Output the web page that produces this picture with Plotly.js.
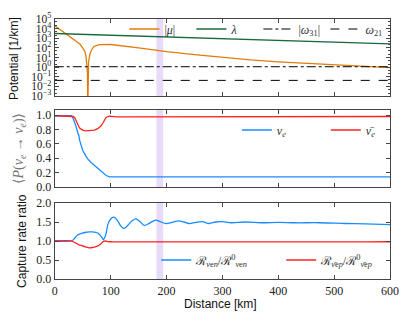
<!DOCTYPE html>
<html><head><meta charset="utf-8">
<script src="https://cdn.plot.ly/plotly-3.0.1.min.js"></script>
<style>html,body{margin:0;padding:0;background:#fff}#c{width:415px;height:324px}</style>
</head><body><div id="c"></div>
<script>
// ---- data ----
const muDist = [0,10,20,30,40,45,50,54,56,57.5,58.5,59,59.5,60.5,62,64,67,70,80,90,100,150,200,250,300,350,400,450,500,550,600];
const muVal  = [2.0e4,7.6e3,2.95e3,1.12e3,400,250,100,40,12,2.5,0.3,1e-5,0.3,3,12,35,80,140,215,240,225,100,40,20,10,5.6,3.5,2.5,1.7,1.2,0.9];
const lamDist = [0,600];
const lamVal  = [3100,263];
const w31 = 1.1;
const w21 = 0.042;
const probDist = [0,30,33,36,38.5,41.5,43,44.5,47,50,55,59,65,71,77,83,87,92,98,110,130,150,200,300,400,500,600];
const probNue  = [0.99,0.99,0.95,0.89,0.83,0.75,0.72,0.65,0.58,0.51,0.44,0.39,0.34,0.30,0.26,0.22,0.19,0.16,0.14,0.14,0.145,0.14,0.14,0.14,0.14,0.14,0.14];
const probNueb = [0.99,0.99,0.98,0.96,0.91,0.86,0.84,0.82,0.80,0.79,0.78,0.78,0.78,0.79,0.81,0.85,0.90,0.97,0.985,0.975,0.975,0.975,0.975,0.975,0.975,0.975,0.98];
const rateDist = [0,30,33,37,41,48,56,62,68,73,77,80,83,85,87,91,95,100,105,109,113,118,123,128,133,139,145,152,160,166,172,177,181,190,199,210,222,231,240,252,264,276,288,300,316,340,370,400,430,475,520,555,600];
const rateN  = [1.0,1.0,1.03,1.10,1.16,1.20,1.23,1.24,1.24,1.23,1.21,1.17,1.12,1.08,1.04,1.15,1.43,1.58,1.63,1.60,1.52,1.40,1.33,1.37,1.45,1.54,1.58,1.52,1.41,1.44,1.49,1.53,1.55,1.50,1.46,1.49,1.53,1.50,1.46,1.49,1.51,1.46,1.50,1.51,1.48,1.50,1.48,1.49,1.48,1.48,1.46,1.45,1.43];
const rateP  = [1.0,1.0,0.98,0.95,0.92,0.88,0.84,0.82,0.83,0.85,0.87,0.90,0.93,0.96,0.99,1.0,0.985,0.98,0.978,0.977,0.977,0.976,0.976,0.976,0.976,0.976,0.976,0.976,0.976,0.976,0.976,0.976,0.976,0.976,0.976,0.976,0.976,0.976,0.976,0.976,0.976,0.976,0.976,0.976,0.976,0.976,0.976,0.976,0.976,0.977,0.978,0.978,0.98];
const bandRange = [182,194];
const logTickVals = [1e-3,1e-2,1e-1,1,1e1,1e2,1e3,1e4,1e5];
const logTickText = ['10<sup>−3</sup>','10<sup>−2</sup>','10<sup>−1</sup>','10<sup>0</sup>','10<sup>1</sup>','10<sup>2</sup>','10<sup>3</sup>','10<sup>4</sup>','10<sup>5</sup>'];
const xTicks = [0,100,200,300,400,500,600];

const ORANGE='#e07c0e', GREEN='#1b6a3c', BLUE='#1a8cff', RED='#ff2222';
const serif='Liberation Serif, DejaVu Serif, serif';
const sans='Liberation Sans, Arial, sans-serif';

const traces = [
 {x:muDist,y:muVal,mode:'lines',line:{color:ORANGE,width:1.3},name:'|<i>μ</i>|',xaxis:'x',yaxis:'y',legend:'legend'},
 {x:lamDist,y:lamVal,mode:'lines',line:{color:GREEN,width:1.3},name:'<i>λ</i>',xaxis:'x',yaxis:'y',legend:'legend'},
 {x:[0,600],y:[w31,w31],mode:'lines',line:{color:'#000',width:1,dash:'dashdot'},name:'|<i>ω</i><sub>31</sub>|',xaxis:'x',yaxis:'y',legend:'legend'},
 {x:[0,600],y:[w21,w21],mode:'lines',line:{color:'#000',width:1,dash:'dash'},name:'<i>ω</i><sub>21</sub>',xaxis:'x',yaxis:'y',legend:'legend'},
 {x:probDist,y:probNue,mode:'lines',line:{color:BLUE,width:1.3},name:'<i>ν<sub>e</sub></i>',xaxis:'x2',yaxis:'y2',legend:'legend2'},
 {x:probDist,y:probNueb,mode:'lines',line:{color:RED,width:1.3},name:'<i>ν̄<sub>e</sub></i>',xaxis:'x2',yaxis:'y2',legend:'legend2'},
 {x:rateDist,y:rateN,mode:'lines',line:{color:BLUE,width:1.3,shape:'spline'},name:'ℛ<sub><i>ν</i>e<i>n</i></sub>/ℛ<sup>0</sup><sub><i>ν</i>e<i>n</i></sub>',xaxis:'x3',yaxis:'y3',legend:'legend3'},
 {x:rateDist,y:rateP,mode:'lines',line:{color:RED,width:1.3,shape:'spline'},name:'ℛ<sub><i>ν̄</i>e<i>p</i></sub>/ℛ<sup>0</sup><sub><i>ν̄</i>e<i>p</i></sub>',xaxis:'x3',yaxis:'y3',legend:'legend3'}
];

const X0=55/415, X1=392/415;
function dom(t,b){return [1-b/324,1-t/324];}
const axBase = {showline:true,linecolor:'#444',linewidth:1.2,mirror:'ticks',ticks:'inside',ticklen:4,tickcolor:'#444',showgrid:false,zeroline:false,tickfont:{family:serif,size:12,color:'#222'}};
function xa(anchor,labels){return Object.assign({},axBase,{domain:[X0,X1],anchor:anchor,range:[0,600],tickvals:xTicks,showticklabels:labels,matches:anchor==='y'?undefined:'x'});}
const legBase={orientation:'h',bgcolor:'rgba(0,0,0,0)',font:{family:serif,size:12,color:'#333'},xanchor:'left',yanchor:'middle',entrywidthmode:'pixels',tracegroupgap:0,itemwidth:30};

const layout = {
 width:415,height:324,margin:{l:0,r:0,t:0,b:0},paper_bgcolor:'#fff',plot_bgcolor:'#fff',
 xaxis:xa('y',false), xaxis2:xa('y2',false), xaxis3:xa('y3',true),
 yaxis:Object.assign({},axBase,{domain:dom(19,96),anchor:'x',type:'log',range:[-3,5],tickvals:logTickVals,ticktext:logTickText,tickfont:{family:serif,size:11.5,color:'#222'},minor:{ticks:'inside',ticklen:2,tickcolor:'#444',showgrid:false}}),
 yaxis2:Object.assign({},axBase,{domain:dom(110,187),anchor:'x2',range:[0,1.07],tickvals:[0,0.2,0.4,0.6,0.8,1.0],tickformat:'.1f'}),
 yaxis3:Object.assign({},axBase,{domain:dom(203,279),anchor:'x3',range:[0,2],tickvals:[0,0.5,1,1.5,2],tickformat:'.1f'}),
 showlegend:true,
 legend:Object.assign({},legBase,{x:125/415,y:1-29/324,entrywidth:22}),
 legend2:Object.assign({},legBase,{x:238/415,y:1-130/324,entrywidth:44}),
 legend3:Object.assign({},legBase,{x:157/415,y:1-260/324,entrywidth:80}),
 shapes:[
  {type:'rect',xref:'x',yref:'y domain',x0:bandRange[0],x1:bandRange[1],y0:0,y1:1,fillcolor:'rgba(190,150,240,0.35)',line:{width:0},layer:'below'},
  {type:'rect',xref:'x2',yref:'y2 domain',x0:bandRange[0],x1:bandRange[1],y0:0,y1:1,fillcolor:'rgba(190,150,240,0.35)',line:{width:0},layer:'below'},
  {type:'rect',xref:'x3',yref:'y3 domain',x0:bandRange[0],x1:bandRange[1],y0:0,y1:1,fillcolor:'rgba(190,150,240,0.35)',line:{width:0},layer:'below'}
 ],
 annotations:[
  {text:'Potential [1/km]',xref:'paper',yref:'paper',x:14/415,y:1-58/324,xanchor:'center',yanchor:'middle',textangle:-90,showarrow:false,font:{family:sans,size:12,color:'#111'}},
  {text:'⟨<i>P</i>(<i>ν<sub>e</sub></i> → <i>ν<sub>e</sub></i>)⟩',xref:'paper',yref:'paper',x:19/415,y:1-148/324,xanchor:'center',yanchor:'middle',textangle:-90,showarrow:false,font:{family:serif,size:14,color:'#777'}},
  {text:'Capture rate ratio',xref:'paper',yref:'paper',x:22/415,y:1-241/324,xanchor:'center',yanchor:'middle',textangle:-90,showarrow:false,font:{family:sans,size:12,color:'#111'}},
  {text:'Distance [km]',xref:'paper',yref:'paper',x:222/415,y:1-304/324,xanchor:'center',yanchor:'middle',showarrow:false,font:{family:sans,size:12,color:'#111'}}
 ]
};
Plotly.newPlot('c',traces,layout,{staticPlot:true,displayModeBar:false});
</script></body></html>
